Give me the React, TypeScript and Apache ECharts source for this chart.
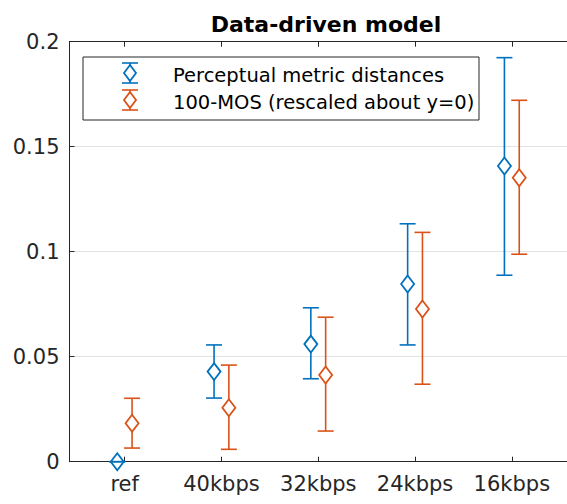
import React, { useEffect, useRef } from "react";
import * as echarts from "echarts";

const categories = ["ref", "40kbps", "32kbps", "24kbps", "16kbps"];
const yTicks = [0, 0.05, 0.1, 0.15, 0.2];

const metricMean = [0, 0.0429, 0.056, 0.0846, 0.1408];
const metricLow = [0, 0.0303, 0.0395, 0.0556, 0.0888];
const metricHigh = [0, 0.0556, 0.0733, 0.1133, 0.1924];

const mosMean = [0.0183, 0.0257, 0.0413, 0.0727, 0.1352];
const mosLow = [0.0065, 0.0059, 0.0146, 0.0369, 0.0988];
const mosHigh = [0.0302, 0.046, 0.0688, 0.1092, 0.1721];

const seriesNames = ["Perceptual metric distances", "100-MOS (rescaled about y=0)"];
const BLUE = "#0072BD";
const ORANGE = "#D95319";
const AXIS = "#262626";
const FONT = "DejaVu Sans";

function makeRender(offset: number, color: string) {
  return (params: any, api: any) => {
    const x = api.value(0) + offset;
    const m = api.value(1);
    const lo = api.value(2);
    const hi = api.value(3);
    const c = api.coord([x, m]);
    const pl = api.coord([x, lo]);
    const ph = api.coord([x, hi]);
    const cw = 8;
    const dw = 6.5;
    const dh = 8.5;
    const ls = { stroke: color, lineWidth: 1.6, fill: "none" };
    return {
      type: "group",
      children: [
        { type: "line", shape: { x1: c[0], y1: ph[1], x2: c[0], y2: pl[1] }, style: ls },
        {
          type: "polygon",
          shape: {
            points: [
              [c[0], c[1] - dh],
              [c[0] + dw, c[1]],
              [c[0], c[1] + dh],
              [c[0] - dw, c[1]],
            ],
          },
          style: { stroke: color, lineWidth: 1.8, fill: "#fff" },
        },
        { type: "line", shape: { x1: c[0] - cw, y1: ph[1], x2: c[0] + cw, y2: ph[1] }, style: ls },
        { type: "line", shape: { x1: c[0] - cw, y1: pl[1], x2: c[0] + cw, y2: pl[1] }, style: ls },
      ],
    };
  };
}

function legendIcon(cx: number, cy: number, color: string): any[] {
  const ls = { stroke: color, lineWidth: 1.6, fill: "none" };
  return [
    { type: "line", z: 11, shape: { x1: cx, y1: cy - 10, x2: cx, y2: cy + 10 }, style: ls },
    {
      type: "polygon",
      z: 12,
      shape: { points: [[cx, cy - 8], [cx + 6, cy], [cx, cy + 8], [cx - 6, cy]] },
      style: { stroke: color, lineWidth: 1.8, fill: "#fff" },
    },
    { type: "line", z: 13, shape: { x1: cx - 8, y1: cy - 10, x2: cx + 8, y2: cy - 10 }, style: ls },
    { type: "line", z: 13, shape: { x1: cx - 8, y1: cy + 10, x2: cx + 8, y2: cy + 10 }, style: ls },
  ];
}

export default function App() {
  const ref = useRef<HTMLDivElement>(null);
  useEffect(() => {
    if (!ref.current) return;
    const chart = echarts.init(ref.current, null, { renderer: "svg" });
    const catTicks = categories.map((_, i) => i + 1);
    const metricData = categories.map((_, i) => [i + 1, metricMean[i], metricLow[i], metricHigh[i]]);
    const mosData = categories.map((_, i) => [i + 1, mosMean[i], mosLow[i], mosHigh[i]]);
    const xBase = {
      type: "value",
      min: 0.43,
      max: 5.57,
      axisLine: { show: true, onZero: false, lineStyle: { color: AXIS, width: 1 } },
      axisTick: { show: true, inside: true, length: 5, customValues: catTicks, lineStyle: { color: AXIS } },
      splitLine: { show: false },
    };
    chart.setOption({
      animation: false,
      backgroundColor: "#fff",
      title: {
        text: "Data-driven model",
        left: 321,
        top: 8,
        textAlign: "center",
        textStyle: { fontFamily: FONT, fontSize: 22, fontWeight: "bold", color: "#000" },
      },
      grid: { left: 69.5, top: 41.7, bottom: 42.3, right: -6, containLabel: false },
      xAxis: [
        {
          ...xBase,
          position: "bottom",
          axisLabel: {
            customValues: catTicks,
            formatter: (v: number) => categories[Math.round(v) - 1] ?? "",
            fontFamily: FONT,
            fontSize: 21,
            color: AXIS,
            margin: 12,
          },
        },
        { ...xBase, position: "top", axisLabel: { show: false } },
      ],
      yAxis: [
        {
          type: "value",
          min: yTicks[0],
          max: yTicks[yTicks.length - 1],
          interval: 0.05,
          axisLine: { show: true, lineStyle: { color: AXIS, width: 1 } },
          axisTick: { show: true, inside: true, length: 5, lineStyle: { color: AXIS } },
          axisLabel: {
            formatter: (v: number) => String(parseFloat(v.toFixed(2))),
            fontFamily: FONT,
            fontSize: 21,
            color: AXIS,
            margin: 10,
          },
          splitLine: { show: true, lineStyle: { color: "#e3e3e3", width: 1 } },
        },
      ],
      series: [
        {
          type: "custom",
          name: seriesNames[0],
          renderItem: makeRender(-0.0765, BLUE),
          encode: { x: 0, y: [1, 2, 3] },
          data: metricData,
          z: 3,
        },
        {
          type: "custom",
          name: seriesNames[1],
          renderItem: makeRender(0.0765, ORANGE),
          encode: { x: 0, y: [1, 2, 3] },
          data: mosData,
          z: 4,
        },
      ],
      graphic: [
        {
          type: "rect",
          shape: { x: 83, y: 57, width: 396, height: 63 },
          style: { fill: "#fff", stroke: AXIS, lineWidth: 1 },
          z: 10,
        },
        ...legendIcon(130, 73, BLUE),
        ...legendIcon(130, 100, ORANGE),
        {
          type: "text",
          x: 173,
          y: 75,
          style: { text: seriesNames[0], fontFamily: FONT, fontSize: 19.5, fill: "#000", verticalAlign: "middle" },
          z: 11,
        },
        {
          type: "text",
          x: 173,
          y: 102,
          style: { text: seriesNames[1], fontFamily: FONT, fontSize: 19.5, fill: "#000", verticalAlign: "middle" },
          z: 11,
        },
      ],
    });
    return () => chart.dispose();
  }, []);
  return (
    <div
      ref={ref}
      style={{ position: "fixed", left: 0, top: 0, width: 567, height: 504, background: "#fff" }}
    />
  );
}
